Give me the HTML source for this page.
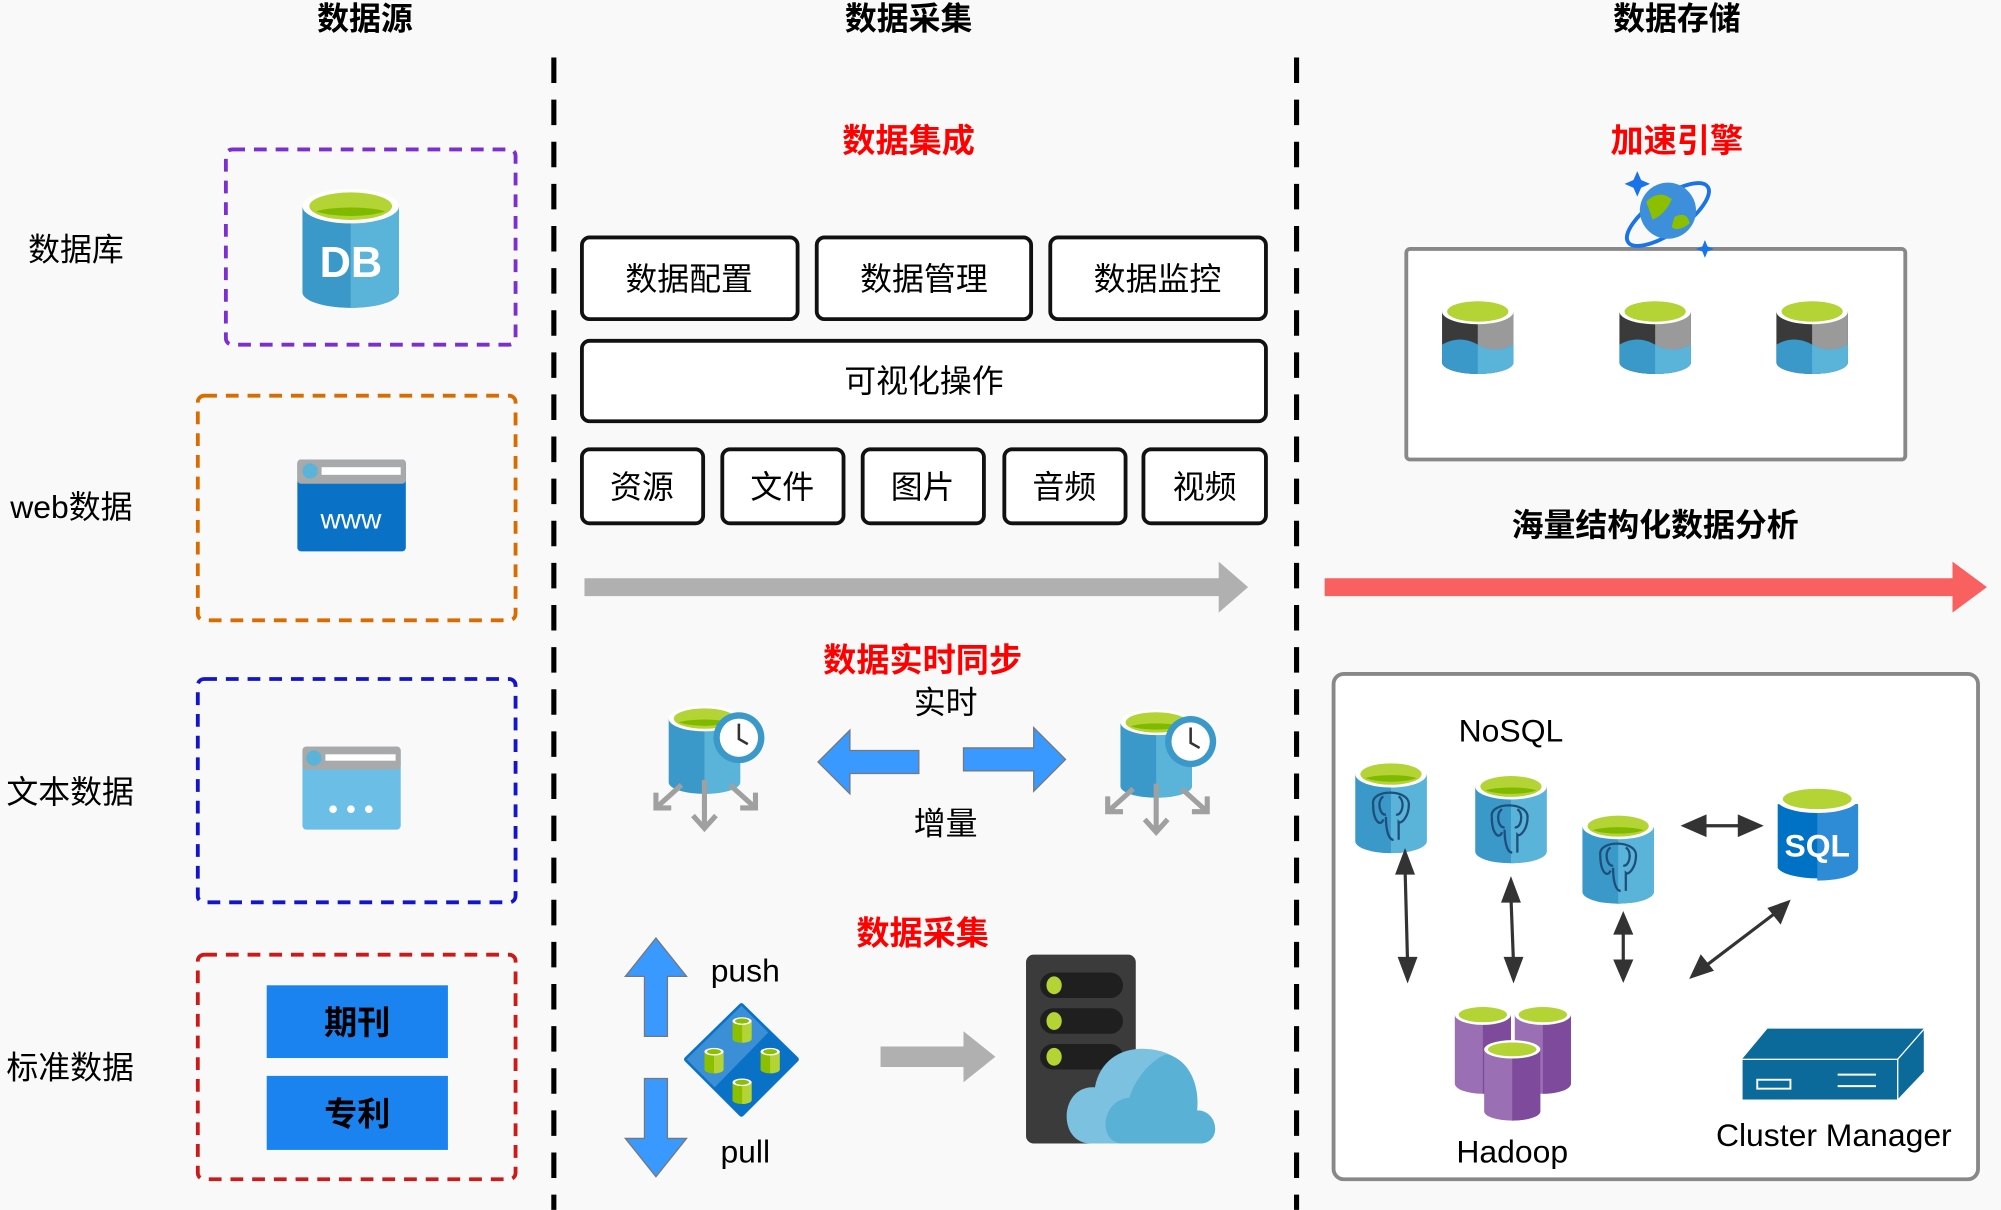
<!DOCTYPE html>
<html><head><meta charset="utf-8"><style>
html,body{margin:0;padding:0;background:#f9f9f9;width:2001px;height:1210px;overflow:hidden}
svg{display:block}
text{font-family:"Liberation Sans","Noto Sans CJK SC",sans-serif}
</style></head><body>
<svg width="2001" height="1210" viewBox="0 0 1568 948" xmlns="http://www.w3.org/2000/svg">
<defs>
<g id="cyl">
<path d="M0 10 V60 A28 9 0 0 0 56 60 V10 Z" fill="#3a99c9"/>
<path d="M28 10 V69 A28 9 0 0 0 56 60 V10 Z" fill="#5ab4da"/>
<ellipse cx="28" cy="10" rx="28" ry="10" fill="#fff"/>
<ellipse cx="28" cy="10" rx="24" ry="8" fill="#b4d334"/>
<path d="M8 13 A24 6 0 0 0 48 13 A24 5 0 0 0 8 13Z" fill="#7fba00"/>
</g>
<g id="pcyl">
<path d="M0 8 V62 A22 8 0 0 0 44 62 V8 Z" fill="#9b6fb3"/>
<path d="M22 8 V70 A22 8 0 0 0 44 62 V8 Z" fill="#7d4a9c"/>
<ellipse cx="22" cy="8" rx="22" ry="8" fill="#fff"/>
<ellipse cx="22" cy="8" rx="19" ry="6" fill="#b4d334"/>
</g>
<g id="dcyl">
<path d="M0 10 V50 A28 9 0 0 0 56 50 V10 Z" fill="#3a3a3a"/>
<path d="M28 10 V59 A28 9 0 0 0 56 50 V10 Z" fill="#9a9a9a"/>
<path d="M0 36 Q14 28 28 36 Q42 44 56 36 V50 A28 9 0 0 1 0 50Z" fill="#3a99c9"/>
<path d="M28 36 Q42 44 56 36 V50 A28 9 0 0 1 28 59Z" fill="#5ab4da"/>
<ellipse cx="28" cy="10" rx="28" ry="10" fill="#fff"/>
<ellipse cx="28" cy="10" rx="24" ry="8" fill="#b4d334"/>
</g>
<g id="mcyl">
<path d="M0 3 V17 A7.5 3 0 0 0 15 17 V3 Z" fill="#8cbf00"/>
<path d="M7.5 3 V20 A7.5 3 0 0 0 15 17 V3 Z" fill="#b4d334"/>
<ellipse cx="7.5" cy="3" rx="7.5" ry="3" fill="#fff"/>
<ellipse cx="7.5" cy="3" rx="5.5" ry="2" fill="#8cbf00"/>
</g>
<g id="syncdb">
<use href="#cyl" x="0" y="0"/>
<circle cx="55" cy="25" r="20" fill="#3a99c9"/>
<circle cx="55" cy="25" r="15" fill="#fff"/>
<path d="M55 14 V26 L62 30" stroke="#333" stroke-width="2" fill="none"/>
<g stroke="#a0a0a0" stroke-width="4" fill="none">
<path d="M28 58 V96 M19 86 L28 96 L37 86"/>
<path d="M10 62 L-10 80 M-10 68 V80 H2"/>
<path d="M48 62 L68 80 M68 68 V80 H56"/>
</g>
</g>
<g id="elephant" fill="none" stroke="#1e4f7a" stroke-width="1.8">
<path d="M-14 -10 C-16 -22 14 -22 14 -10 C14 0 8 6 6 4 V18 M-4 0 C-4 10 -2 18 2 18 M-14 -10 C-14 4 -8 8 -6 2"/>
<path d="M-6 -16 C-12 -12 -8 0 -4 -2 M6 -16 C12 -12 8 0 4 -2"/>
</g>
</defs>
<rect width="1568" height="948" fill="#f9f9f9"/>

<g font-size="25" font-weight="bold" text-anchor="middle" fill="#000">
<text x="286" y="23">数据源</text><text x="712" y="23">数据采集</text><text x="1314" y="23">数据存储</text>
</g>
<g stroke="#000" stroke-width="4" stroke-dasharray="20 13">
<line x1="434" y1="45" x2="434" y2="948"/><line x1="1016" y1="45" x2="1016" y2="948"/>
</g>

<g font-size="25" fill="#000">
<text x="22" y="204">数据库</text><text x="8" y="406">web数据</text><text x="5" y="629">文本数据</text><text x="5" y="845">标准数据</text>
</g>
<g fill="none" stroke-width="3" stroke-dasharray="10 7">
<rect x="177" y="117" width="227" height="153" rx="5" stroke="#7b2fd0"/>
<rect x="155" y="310" width="249" height="176" rx="5" stroke="#d96c00"/>
<rect x="155" y="532" width="249" height="175" rx="5" stroke="#1414c8"/>
<rect x="155" y="748" width="249" height="176" rx="5" stroke="#cc1a1a"/>
</g>
<g transform="translate(237,148) scale(1.35,1.35)"><use href="#cyl"/></g>
<text x="275" y="217" font-size="34" font-weight="bold" fill="#fff" text-anchor="middle">DB</text>
<rect x="233" y="360" width="85" height="72" rx="3" fill="#0a72c6"/>
<rect x="233" y="360" width="85" height="19" rx="3" fill="#a8a9ab"/>
<circle cx="243" cy="369" r="6" fill="#5ab4da"/><rect x="252" y="366" width="62" height="6" fill="#fff"/>
<text x="275" y="414" font-size="22" fill="#fff" text-anchor="middle">www</text>
<rect x="237" y="585" width="77" height="65" rx="3" fill="#6bbfe6"/>
<rect x="237" y="585" width="77" height="18" rx="3" fill="#a8a9ab"/>
<circle cx="246" cy="594" r="6" fill="#5ab4da"/><rect x="255" y="591" width="55" height="5" fill="#fff"/>
<g fill="#fff"><circle cx="261" cy="634" r="3"/><circle cx="275" cy="634" r="3"/><circle cx="289" cy="634" r="3"/></g>
<rect x="209" y="772" width="142" height="57" fill="#1b83f0"/>
<rect x="209" y="843" width="142" height="58" fill="#1b83f0"/>
<g font-size="26" font-weight="bold" fill="#000" text-anchor="middle"><text x="280" y="810">期刊</text><text x="280" y="882">专利</text></g>

<g font-size="26" font-weight="bold" fill="#f00" text-anchor="middle">
<text x="712" y="119">数据集成</text><text x="723" y="526">数据实时同步</text><text x="723" y="740">数据采集</text><text x="1314" y="119">加速引擎</text>
</g>
<g fill="#fff" stroke="#111" stroke-width="3">
<rect x="456" y="186" width="169" height="64" rx="6"/><rect x="640" y="186" width="168" height="64" rx="6"/><rect x="823" y="186" width="169" height="64" rx="6"/>
<rect x="456" y="267" width="536" height="63" rx="6"/>
<rect x="456" y="352" width="95" height="58" rx="6"/><rect x="566" y="352" width="95" height="58" rx="6"/><rect x="676" y="352" width="95" height="58" rx="6"/><rect x="787" y="352" width="95" height="58" rx="6"/><rect x="896" y="352" width="96" height="58" rx="6"/>
</g>
<g font-size="25" fill="#000" text-anchor="middle">
<text x="540" y="227">数据配置</text><text x="724" y="227">数据管理</text><text x="907" y="227">数据监控</text>
<text x="724" y="307">可视化操作</text>
<text x="503" y="390">资源</text><text x="613" y="390">文件</text><text x="723" y="390">图片</text><text x="834" y="390">音频</text><text x="944" y="390">视频</text>
<text x="741" y="559">实时</text><text x="741" y="654">增量</text>
</g>
<polygon points="458,453 955,453 955,440 978,460 955,480 955,467 458,467" fill="#b0b0b0"/>
<polygon points="1038,453 1530,453 1530,440 1557,460 1530,480 1530,467 1038,467" fill="#f96060"/>

<g transform="translate(524,553)"><use href="#syncdb"/></g>
<g transform="translate(878,556)"><use href="#syncdb"/></g>
<polygon points="641,597 666,572 666,588 720,588 720,606 666,606 666,622" fill="#3a99ff" stroke="#777" stroke-width="1"/>
<polygon points="835,595 810,570 810,586 755,586 755,604 810,604 810,620" fill="#3a99ff" stroke="#777" stroke-width="1"/>

<polygon points="514,735 538,765 523,765 523,812 505,812 505,765 490,765" fill="#3a99ff" stroke="#777"/>
<polygon points="514,922 538,892 523,892 523,845 505,845 505,892 490,892" fill="#3a99ff" stroke="#777"/>
<g font-size="25" fill="#000" text-anchor="middle"><text x="584" y="769">push</text><text x="584" y="911">pull</text></g>
<polygon points="581,788 624,830 581,873 538,830" fill="#0a72c6" stroke="#0a72c6" stroke-width="4" stroke-linejoin="round"/>
<polygon points="581,788 538,830 560,852 602,809" fill="#3a8fd6"/>
<use href="#mcyl" x="574" y="797"/><use href="#mcyl" x="552" y="821"/><use href="#mcyl" x="596" y="821"/><use href="#mcyl" x="574" y="845"/>
<polygon points="690,820 755,820 755,808 780,828 755,848 755,836 690,836" fill="#b0b0b0"/>
<rect x="804" y="748" width="86" height="148" rx="6" fill="#3b3b3b"/>
<g fill="#1f1f1f"><rect x="815" y="762" width="65" height="20" rx="10"/><rect x="815" y="790" width="65" height="20" rx="10"/><rect x="815" y="818" width="65" height="20" rx="10"/></g>
<g fill="#b4d334"><ellipse cx="826" cy="772" rx="6" ry="7"/><ellipse cx="826" cy="800" rx="6" ry="7"/><ellipse cx="826" cy="828" rx="6" ry="7"/></g>
<path d="M855 896 C828 896 830 850 858 852 C862 830 880 820 900 822 C930 824 940 850 938 870 C955 870 958 896 940 896 Z" fill="#7cc2e0"/>
<path d="M880 896 C860 896 862 862 885 860 C892 838 910 826 915 826 C935 832 940 855 938 870 C955 870 958 896 940 896 Z" fill="#59b1d6"/>

<rect x="1102" y="195" width="391" height="165" rx="3" fill="#fff" stroke="#888" stroke-width="3"/>
<g transform="translate(1130,234)"><use href="#dcyl"/></g>
<g transform="translate(1269,234)"><use href="#dcyl"/></g>
<g transform="translate(1392,234)"><use href="#dcyl"/></g>
<ellipse cx="1307" cy="168" rx="38" ry="14" transform="rotate(-35 1307 168)" fill="none" stroke="#1a73e8" stroke-width="3"/>
<circle cx="1307" cy="165" r="22" fill="#3d8fdb"/>
<path d="M1290 158 Q1300 148 1310 156 Q1305 168 1295 172Z M1312 170 Q1322 165 1324 175 Q1315 182 1310 178Z" fill="#8cbf00"/>
<path d="M1283 134 l3 7 7 3 -7 3 -3 7 -3 -7 -7 -3 7 -3z M1336 188 l2 5 5 2 -5 2 -2 5 -2 -5 -5 -2 5 -2z" fill="#1a73e8"/>
<text x="1297" y="420" font-size="25" font-weight="bold" text-anchor="middle" fill="#000">海量结构化数据分析</text>

<rect x="1045" y="528" width="505" height="396" rx="8" fill="#fff" stroke="#888" stroke-width="3"/>
<g font-size="25" fill="#000" text-anchor="middle">
<text x="1184" y="581">NoSQL</text><text x="1185" y="911">Hadoop</text><text x="1437" y="898">Cluster Manager</text></g>
<g transform="translate(1062,596) scale(1,1.05)"><use href="#cyl"/></g>
<g transform="translate(1156,606) scale(1,1.02)"><use href="#cyl"/></g>
<g transform="translate(1240,637) scale(1,1.03)"><use href="#cyl"/></g>
<g transform="translate(1090,640)"><use href="#elephant"/></g>
<g transform="translate(1183,650)"><use href="#elephant"/></g>
<g transform="translate(1268,680)"><use href="#elephant"/></g>
<path d="M1393 630 V680 A32 10 0 0 0 1456 680 V630 Z" fill="#0072c6"/>
<path d="M1424 630 V690 A32 10 0 0 0 1456 680 V630 Z" fill="#2e8bd6"/>
<ellipse cx="1424" cy="626" rx="32" ry="11" fill="#fff"/><ellipse cx="1424" cy="626" rx="27" ry="8" fill="#b4d334"/>
<text x="1424" y="671" font-size="25" font-weight="bold" fill="#fff" text-anchor="middle">SQL</text>
<g stroke="#333" stroke-width="2.5" fill="#333">
<line x1="1101" y1="680" x2="1103" y2="755"/><polygon points="1101,668 1095,684 1107,684"/><polygon points="1103,767 1097,751 1109,751"/>
<line x1="1184" y1="703" x2="1186" y2="755"/><polygon points="1184,690 1178,706 1190,706"/><polygon points="1186,767 1180,751 1192,751"/>
<line x1="1272" y1="728" x2="1272" y2="755"/><polygon points="1272,717 1266,731 1278,731"/><polygon points="1272,767 1266,753 1278,753"/>
<line x1="1333" y1="647" x2="1366" y2="647"/><polygon points="1320,647 1336,640 1336,654"/><polygon points="1379,647 1363,640 1363,654"/>
<line x1="1335" y1="758" x2="1393" y2="714"/><polygon points="1326,765 1333,750 1341,760"/><polygon points="1401,707 1387,712 1395,722"/>
</g>
<g transform="translate(1140,787)"><use href="#pcyl"/></g>
<g transform="translate(1187,787)"><use href="#pcyl"/></g>
<g transform="translate(1163,815) scale(1,0.9)"><use href="#pcyl"/></g>
<polygon points="1365,830 1385,806 1508,806 1487,830" fill="#0b6a99"/>
<polygon points="1487,830 1508,806 1508,840 1487,862" fill="#0b6a99" stroke="#fff" stroke-width="1"/>
<rect x="1365" y="830" width="122" height="32" fill="#0b6a99" stroke="#fff" stroke-width="1"/>
<rect x="1377" y="846" width="26" height="7" fill="none" stroke="#fff" stroke-width="1.5"/>
<g stroke="#fff" stroke-width="1.5"><line x1="1440" y1="842" x2="1470" y2="842"/><line x1="1440" y1="851" x2="1470" y2="851"/></g>
</svg>
</body></html>
